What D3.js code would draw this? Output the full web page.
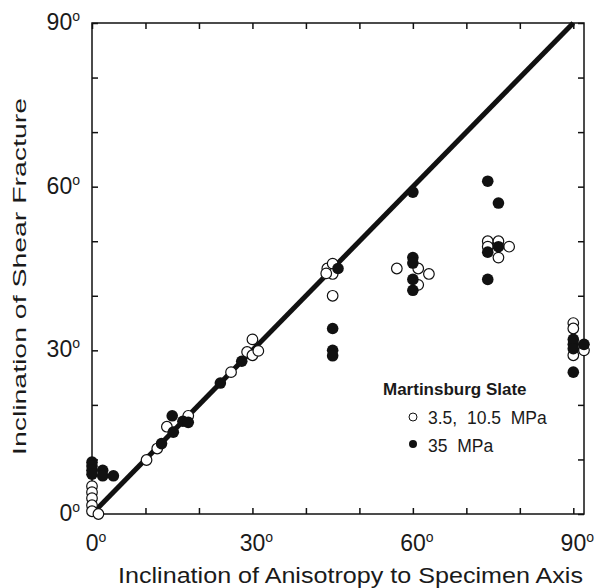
<!DOCTYPE html>
<html>
<head>
<meta charset="utf-8">
<script src="https://cdn.jsdelivr.net/npm/d3@7"></script>
<style>
  body { margin: 0; background: #fff; }
  text { font-family: "Liberation Sans", Arial, sans-serif; fill: #1a1a1a; }
</style>
</head>
<body>
<div id="chart"></div>
<script>
// tick labels shown on the axes
var tickVals = [0, 30, 60, 90];
var minorTicks = [0, 10, 20, 30, 40, 50, 60, 70, 80, 90];

// 3.5, 10.5 MPa (open circles) [anisotropy, fracture]
var lowPressure = [
  [0, 5.1], [0, 4], [0, 2.9], [0, 1.6], [0, 0.5], [1.2, 0],
  [10.2, 9.9], [12.2, 12], [14, 16], [18, 18], [26, 26],
  [29, 29.7], [30, 32], [30, 29.1], [31.1, 29.9],
  [44, 45], [45, 45.9], [45, 44], [43.8, 44.1], [45, 40],
  [57, 45], [61, 45], [63, 44], [61, 42],
  [74, 50], [76, 50], [74, 49], [78, 49], [76, 47],
  [90, 35], [90, 34], [90, 29.1], [92, 30]
];

// 35 MPa (filled circles)
var highPressure = [
  [0, 9.5], [0, 8.8], [0, 8], [0, 7.3], [2, 8], [2, 7], [4, 7],
  [13, 12.9], [15, 18], [15.2, 15], [17, 17], [18, 16.8],
  [24, 24], [28, 28], [46, 45], [45, 34], [45, 30], [45, 29],
  [60, 59], [60, 47], [60, 46], [60, 43], [60, 41],
  [74, 61], [76, 57], [74, 48], [76, 49], [74, 43],
  [90, 32], [90, 31.1], [90, 30.3], [90, 26], [92, 31.1]
];

// equality line
var lineData = [[0, 0], [90, 90]];

var W = 599, H = 588;
var svg = d3.select("#chart").append("svg")
    .attr("width", W)
    .attr("height", H);

var x = d3.scaleLinear().domain([0, 92]).range([92, 584]);
var y = d3.scaleLinear().domain([0, 90]).range([514, 23]);

// frame
svg.append("rect")
  .attr("x", x(0)).attr("y", y(90))
  .attr("width", x(92) - x(0)).attr("height", y(0) - y(90))
  .attr("fill", "none").attr("stroke", "#111").attr("stroke-width", 1.5);

// inward ticks on all four sides
var tl = 6;
var axB = svg.append("g")
  .attr("transform", "translate(0," + y(0) + ")")
  .call(d3.axisBottom(x).tickValues(minorTicks).tickSizeInner(-tl).tickSizeOuter(0).tickFormat(""));
var axT = svg.append("g")
  .attr("transform", "translate(0," + y(90) + ")")
  .call(d3.axisTop(x).tickValues(minorTicks).tickSizeInner(-tl).tickSizeOuter(0).tickFormat(""));
var axL = svg.append("g")
  .attr("transform", "translate(" + x(0) + ",0)")
  .call(d3.axisLeft(y).tickValues(minorTicks).tickSizeInner(-tl).tickSizeOuter(0).tickFormat(""));
var axR = svg.append("g")
  .attr("transform", "translate(" + x(92) + ",0)")
  .call(d3.axisRight(y).tickValues(minorTicks).tickSizeInner(-tl).tickSizeOuter(0).tickFormat(""));
[axB, axT, axL, axR].forEach(function(a) {
  a.select(".domain").remove();
  a.selectAll("line").attr("stroke", "#111").attr("stroke-width", 1.5);
});

// tick labels with superscript "o" for degrees
function degLabel(sel) {
  sel.text(function(d) { return d; })
    .append("tspan")
      .attr("dy", -9)
      .style("font-size", "14px")
      .text("o");
}

svg.selectAll(".xlab")
  .data(tickVals)
  .enter().append("text")
    .attr("class", "xlab")
    .attr("x", function(d) { return x(d) + 4; })
    .attr("y", 551)
    .attr("text-anchor", "middle")
    .style("font-size", "23px")
    .call(degLabel);

svg.selectAll(".ylab")
  .data(tickVals)
  .enter().append("text")
    .attr("class", "ylab")
    .attr("x", 80)
    .attr("y", function(d) { return y(d) + 7; })
    .attr("text-anchor", "end")
    .style("font-size", "23px")
    .call(degLabel);

// axis titles (stretched like the original)
svg.append("text")
  .attr("x", 118)
  .attr("y", 583)
  .attr("textLength", 465)
  .attr("lengthAdjust", "spacingAndGlyphs")
  .style("font-size", "22px")
  .text("Inclination of Anisotropy to Specimen Axis");

svg.append("text")
  .attr("transform", "translate(26,455) rotate(-90)")
  .attr("textLength", 357)
  .attr("lengthAdjust", "spacingAndGlyphs")
  .style("font-size", "19px")
  .text("Inclination of Shear Fracture");

// the 1:1 line
svg.append("path")
  .datum(lineData)
  .attr("fill", "none")
  .attr("stroke", "#111")
  .attr("stroke-width", 5)
  .attr("d", d3.line()
    .x(function(d) { return x(d[0]); })
    .y(function(d) { return y(d[1]); }));

// points
svg.append("g").selectAll("circle")
  .data(lowPressure)
  .enter().append("circle")
    .attr("cx", function(d) { return x(d[0]); })
    .attr("cy", function(d) { return y(d[1]); })
    .attr("r", 5.3)
    .attr("fill", "#fff")
    .attr("stroke", "#111")
    .attr("stroke-width", 1.2);

svg.append("g").selectAll("circle")
  .data(highPressure)
  .enter().append("circle")
    .attr("cx", function(d) { return x(d[0]); })
    .attr("cy", function(d) { return y(d[1]); })
    .attr("r", 5.8)
    .attr("fill", "#111");

// legend
var leg = svg.append("g");
leg.append("text")
  .attr("x", 383).attr("y", 395)
  .style("font-size", "17px")
  .style("font-weight", "bold")
  .text("Martinsburg Slate");
leg.append("circle")
  .attr("cx", 413).attr("cy", 417).attr("r", 4)
  .attr("fill", "#fff").attr("stroke", "#111").attr("stroke-width", 1);
leg.append("text")
  .attr("x", 428).attr("y", 424)
  .style("font-size", "17.5px")
  .style("white-space", "pre")
  .text("3.5,  10.5  MPa");
leg.append("circle")
  .attr("cx", 413).attr("cy", 444).attr("r", 4)
  .attr("fill", "#111");
leg.append("text")
  .attr("x", 428).attr("y", 452)
  .style("font-size", "17.5px")
  .style("white-space", "pre")
  .text("35  MPa");
</script>
</body>
</html>
